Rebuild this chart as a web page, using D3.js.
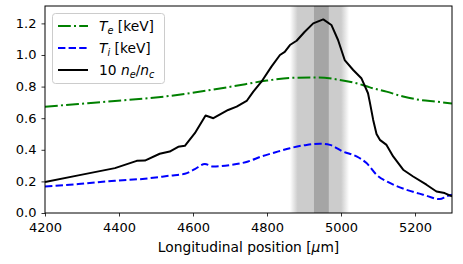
<!DOCTYPE html>
<html><head><meta charset="utf-8">
<script src="https://cdn.jsdelivr.net/npm/d3@7"></script>
<style>
body{margin:0;background:#fff;}
text{font-family:"DejaVu Sans",sans-serif;}
</style></head>
<body><svg id="c" width="463" height="264"></svg>
<script>
const xTicks = [4200,4400,4600,4800,5000,5200];
const yTicks = [0.0,0.2,0.4,0.6,0.8,1.0,1.2];
const neX = [4200,4290,4389,4448,4470,4510,4537,4560,4578,4605,4634,4655,4695,4718,4745,4763,4785,4812,4835,4848,4862,4880,4902,4925,4952,4974,4992,5010,5033,5055,5073,5078,5087,5096,5105,5123,5141,5168,5195,5231,5258,5280,5300];
const neY = [0.196,0.238,0.284,0.33,0.332,0.375,0.389,0.419,0.425,0.505,0.617,0.6,0.652,0.673,0.709,0.768,0.831,0.926,1.0,1.02,1.063,1.09,1.147,1.2,1.225,1.19,1.095,0.968,0.905,0.853,0.758,0.70,0.589,0.5,0.463,0.431,0.358,0.274,0.231,0.179,0.136,0.126,0.105];
const tiX = [4200,4290,4389,4470,4537,4578,4605,4632,4655,4704,4749,4785,4821,4862,4907,4943,4970,5005,5042,5069,5096,5132,5177,5222,5267,5285,5300];
const tiY = [0.168,0.183,0.204,0.217,0.236,0.248,0.278,0.31,0.294,0.305,0.326,0.358,0.383,0.41,0.431,0.438,0.431,0.389,0.358,0.316,0.242,0.19,0.147,0.116,0.088,0.105,0.116];
const teX = [4200,4290,4389,4537,4704,4800,4862,4940,4997,5042,5078,5123,5168,5213,5258,5300];
const teY = [0.673,0.69,0.709,0.741,0.80,0.838,0.855,0.858,0.842,0.821,0.795,0.768,0.737,0.716,0.705,0.693];
const bandOuter = [4862,5022];
const bandInner = [4883,5000];
const bandDark = [4927,4967];

const svg = d3.select("#c");
const m = {l:45,r:452,t:6,b:213};
const x = d3.scaleLinear().domain([4200,5300]).range([m.l,m.r]);
const y = d3.scaleLinear().domain([0,1.31]).range([m.b,m.t]);

const defs = svg.append("defs");
const g = defs.append("linearGradient").attr("id","bg").attr("x1","0").attr("x2","1").attr("y1","0").attr("y2","0");
const w = bandOuter[1]-bandOuter[0];
[[bandOuter[0],0],[bandInner[0],1],[bandInner[1],1],[bandOuter[1],0]].forEach(([v,o])=>{
  g.append("stop").attr("offset",((v-bandOuter[0])/w*100)+"%").attr("stop-color","#cccccc").attr("stop-opacity",o);
});
svg.append("rect").attr("x",x(bandOuter[0])).attr("y",m.t).attr("width",x(bandOuter[1])-x(bandOuter[0])).attr("height",m.b-m.t).attr("fill","url(#bg)");
svg.append("rect").attr("x",x(bandDark[0])).attr("y",m.t).attr("width",x(bandDark[1])-x(bandDark[0])).attr("height",m.b-m.t).attr("fill","#a5a5a5");

const line = d3.line().x(d=>x(d[0])).y(d=>y(d[1]));
const lineS = d3.line().x(d=>x(d[0])).y(d=>y(d[1])).curve(d3.curveMonotoneX);
defs.append("clipPath").attr("id","cp").append("rect").attr("x",m.l).attr("y",m.t).attr("width",m.r-m.l).attr("height",m.b-m.t);
const pl = svg.append("g").attr("clip-path","url(#cp)");
pl.append("path").attr("d",lineS(d3.zip(teX,teY))).attr("fill","none").attr("stroke","#008000").attr("stroke-width",2).attr("stroke-dasharray","12.8,3.2,2,3.2");
pl.append("path").attr("d",lineS(d3.zip(tiX,tiY))).attr("fill","none").attr("stroke","#0000ff").attr("stroke-width",2).attr("stroke-dasharray","7.4,3.2");
pl.append("path").attr("d",line(d3.zip(neX,neY))).attr("fill","none").attr("stroke","#000").attr("stroke-width",2).attr("stroke-linejoin","round");

const FS = "13.8px";
const TFS = "13px";
const xa = svg.append("g").attr("transform",`translate(0,${m.b})`).call(d3.axisBottom(x).tickValues(xTicks).tickFormat(d3.format("d")).tickSize(3.5).tickPadding(6.5));
const ya = svg.append("g").attr("transform",`translate(${m.l},0)`).call(d3.axisLeft(y).tickValues(yTicks).tickFormat(d3.format(".1f")).tickSize(3.5).tickPadding(5));
[xa,ya].forEach(a=>{a.select(".domain").remove();a.selectAll("text").attr("font-size",TFS).attr("font-family","DejaVu Sans").attr("fill","#000");a.selectAll("line").attr("stroke","#000").attr("stroke-width",0.8);});
ya.selectAll("text").attr("dy","0.3em");
svg.append("rect").attr("x",m.l).attr("y",m.t).attr("width",m.r-m.l).attr("height",m.b-m.t).attr("fill","none").attr("stroke","#000").attr("stroke-width",1);

const xl = svg.append("text").attr("x",(m.l+m.r)/2).attr("y",252).attr("text-anchor","middle").attr("font-size",FS);
xl.append("tspan").text("Longitudinal position [");
xl.append("tspan").attr("font-style","italic").text("μ");
xl.append("tspan").text("m]");

const lg = svg.append("g");
lg.append("rect").attr("x",52.5).attr("y",13.5).attr("width",112).attr("height",70).attr("rx",3).attr("fill","#fff").attr("fill-opacity",0.8).attr("stroke","#cccccc").attr("stroke-width",1);
const items = [
  {c:"#008000",dash:"12.8,3.2,2,3.2",y:26,parts:[["T","i",""],["e","i","sub"],[" [keV]","",""]]},
  {c:"#0000ff",dash:"7.4,3.2",y:48,parts:[["T","i",""],["i","i","sub"],[" [keV]","",""]]},
  {c:"#000",dash:null,y:70,parts:[["10 ","",""],["n","i",""],["e","i","sub"],["/","",""],["n","i",""],["c","i","sub"]]}
];
items.forEach(it=>{
  lg.append("line").attr("x1",58).attr("x2",88).attr("y1",it.y).attr("y2",it.y).attr("stroke",it.c).attr("stroke-width",2).attr("stroke-dasharray",it.dash);
  const t = lg.append("text").attr("x",99).attr("y",it.y+5).attr("font-size",FS);
  let wasSub = false;
  it.parts.forEach(([s,st,sub])=>{
    const ts = t.append("tspan").text(s);
    if(st) ts.attr("font-style","italic");
    if(sub){ts.attr("font-size","9.7px").attr("dy",3); wasSub=true;}
    else { if(wasSub) ts.attr("dy",-3); wasSub=false; }
  });
});
</script></body></html>
